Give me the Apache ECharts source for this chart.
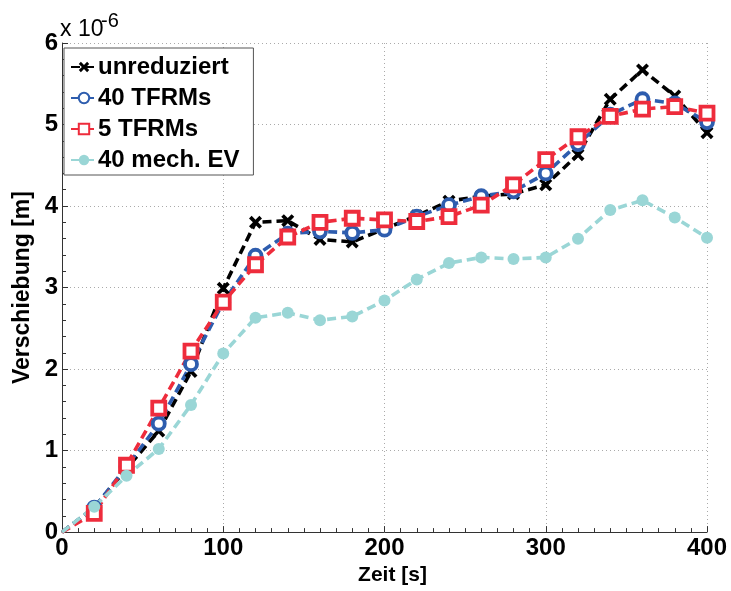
<!DOCTYPE html>
<html>
<head>
<meta charset="utf-8">
<script src="https://cdn.jsdelivr.net/npm/echarts@6/dist/echarts.min.js"></script>
<style>html,body{margin:0;padding:0;background:#fff}#c{width:731px;height:591px}</style>
</head>
<body>
<div id="c"></div>
<script>
const time = [0,20,40,60,80,100,120,140,160,180,200,220,240,260,280,300,320,340,360,380,400];
const unreduziert = [0,0.30,0.78,1.24,1.97,2.99,3.80,3.82,3.59,3.56,3.72,3.88,4.06,4.12,4.15,4.26,4.63,5.31,5.67,5.35,4.90];
const tfrm40 = [0,0.30,0.80,1.33,2.06,2.82,3.39,3.66,3.69,3.67,3.71,3.87,4.01,4.12,4.18,4.40,4.76,5.12,5.31,5.26,5.03];
const tfrm5 = [0,0.23,0.82,1.52,2.22,2.82,3.28,3.62,3.80,3.85,3.83,3.81,3.87,4.01,4.26,4.57,4.85,5.10,5.19,5.22,5.14];
const mech40 = [0,0.31,0.69,1.02,1.56,2.19,2.63,2.69,2.60,2.645,2.84,3.10,3.30,3.37,3.35,3.37,3.60,3.95,4.07,3.86,3.61];
const seriesNames = ['unreduziert','40 TFRMs','5 TFRMs','40 mech. EV'];

const FONT = 'Liberation Sans';
const crossPath = 'path://M2,0 L5,3 L8,0 L10,2 L7,5 L10,8 L8,10 L5,7 L2,10 L0,8 L3,5 L0,2 Z';
// no marker drawn at the origin sample (as in the reference)
function pairs(arr){ return time.map((t,i)=> i===0 ? {value:[t,arr[i]], symbol:'none'} : [t,arr[i]]); }

const chart = echarts.init(document.getElementById('c'), null, {renderer:'canvas'});
const dash = [9,5];
const LW = 3.6;
chart.setOption({
  animation:false,
  backgroundColor:'#fff',
  grid:{left:62,right:24,top:43,bottom:54,containLabel:false},
  legend:{
    left:64, top:48, orient:'vertical',
    backgroundColor:'#fff', borderColor:'#555', borderWidth:1,
    padding:[7,14,3,6], itemGap:7, itemWidth:26, itemHeight:13,
    textStyle:{fontFamily:FONT, fontWeight:'bold', fontSize:24, color:'#000', padding:[0,0,0,-4]},
    data:seriesNames
  },
  xAxis:{
    type:'value', min:0, max:400, interval:100,
    name:'Zeit [s]', nameLocation:'middle', nameGap:30,
    nameTextStyle:{fontFamily:FONT, fontWeight:'bold', fontSize:21, color:'#000', padding:[0,0,0,16]},
    axisLine:{show:true, lineStyle:{color:'#333', width:1}},
    axisTick:{show:true, inside:true, length:6, lineStyle:{color:'#333'}},
    minorTick:{show:true, splitNumber:10, length:4, lineStyle:{color:'#333'}},
    axisLabel:{fontFamily:FONT, fontWeight:'bold', fontSize:24, color:'#000', margin:4},
    splitLine:{show:true, lineStyle:{color:'#aaa', type:[1,3], width:1}}
  },
  yAxis:{
    type:'value', min:0, max:6, interval:1,
    name:'Verschiebung [m]', nameLocation:'middle', nameGap:28,
    nameTextStyle:{fontFamily:FONT, fontWeight:'bold', fontSize:23, color:'#000'},
    axisLine:{show:true, lineStyle:{color:'#333', width:1}},
    axisTick:{show:true, inside:true, length:6, lineStyle:{color:'#333'}},
    minorTick:{show:true, splitNumber:5, length:4, lineStyle:{color:'#333'}},
    axisLabel:{fontFamily:FONT, fontWeight:'bold', fontSize:24, color:'#000', margin:4},
    splitLine:{show:true, lineStyle:{color:'#aaa', type:[1,3], width:1}}
  },
  graphic:[
    {type:'text', left:60, top:18, style:{text:'x 10', fontFamily:FONT, fontSize:23, fill:'#000'}},
    {type:'text', left:101, top:11, style:{text:'-6', fontFamily:FONT, fontSize:20, fill:'#000'}}
  ],
  series:[
    {name:seriesNames[0], type:'line', data:pairs(unreduziert), symbol:crossPath, symbolSize:13,
     lineStyle:{color:'#000', width:LW, type:dash}, itemStyle:{color:'#000'}},
    {name:seriesNames[1], type:'line', data:pairs(tfrm40), symbol:'circle', symbolSize:12,
     lineStyle:{color:'#2E5DAE', width:LW, type:dash}, itemStyle:{color:'#fff', borderColor:'#2E5DAE', borderWidth:3.8}},
    {name:seriesNames[2], type:'line', data:pairs(tfrm5), symbol:'rect', symbolSize:13,
     lineStyle:{color:'#EE2C3C', width:LW, type:dash}, itemStyle:{color:'#fff', borderColor:'#EE2C3C', borderWidth:3.8}},
    {name:seriesNames[3], type:'line', data:pairs(mech40), symbol:'circle', symbolSize:12,
     lineStyle:{color:'#9AD6D6', width:LW, type:dash}, itemStyle:{color:'#9AD6D6'}}
  ]
});
</script>
</body>
</html>
